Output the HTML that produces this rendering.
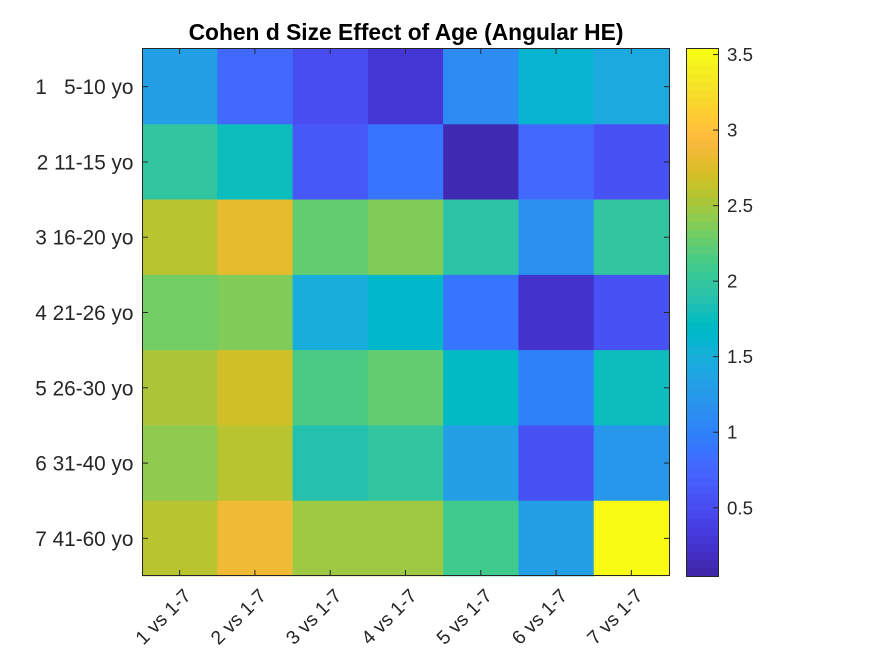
<!DOCTYPE html>
<html>
<head>
<meta charset="utf-8">
<style>
html,body{margin:0;padding:0;background:#fff;}
svg{display:block;}
text{font-family:"Liberation Sans",Arial,sans-serif;fill:#262626;white-space:pre;}
</style>
</head>
<body>
<svg id="chart" width="875" height="656" viewBox="0 0 875 656" xmlns="http://www.w3.org/2000/svg" shape-rendering="auto">
<text x="406" y="40" text-anchor="middle" font-size="22.8" font-weight="bold" style="fill:#000">Cohen d Size Effect of Age (Angular HE)</text>
<g id="cells"></g>
<g id="xaxis"></g>
<g id="yaxis"></g>
<rect x="142.5" y="48.5" width="527" height="527" fill="none" stroke="#262626" stroke-width="1"/>
<g id="cbar"></g>
<rect x="686.5" y="48.5" width="32" height="528" fill="none" stroke="#262626" stroke-width="1"/>
<g id="cbarticks"></g>
</svg>
<script>
const rowLabels = ["1   5-10 yo","2 11-15 yo","3 16-20 yo","4 21-26 yo","5 26-30 yo","6 31-40 yo","7 41-60 yo"];
const colLabels = ["1 vs 1-7","2 vs 1-7","3 vs 1-7","4 vs 1-7","5 vs 1-7","6 vs 1-7","7 vs 1-7"];
const values = [
  [1.33,0.76,0.50,0.30,1.12,1.60,1.45],
  [2.00,1.75,0.60,0.90,0.15,0.80,0.55],
  [2.60,2.82,2.27,2.38,1.95,1.15,2.00],
  [2.30,2.38,1.50,1.65,0.90,0.25,0.55],
  [2.55,2.70,2.16,2.25,1.70,0.98,1.75],
  [2.43,2.60,1.90,2.00,1.33,0.55,1.20],
  [2.60,2.87,2.50,2.50,2.10,1.33,3.53]
];
const colorTicks = [0.5,1,1.5,2,2.5,3,3.5];
const colorTickLabels = ["0.5","1","1.5","2","2.5","3","3.5"];
const climMin = 0.045;
const climMax = 3.54;
const parula = [[.2422,.1504,.6603],[.2504,.165,.7076],[.2578,.1818,.7511],[.2647,.1978,.7952],[.2706,.2147,.8364],[.2751,.2342,.871],[.2783,.2559,.8991],[.2803,.2782,.9221],[.2813,.3006,.9414],[.281,.3228,.9579],[.2795,.3447,.9717],[.276,.3667,.9829],[.2699,.3892,.9906],[.2602,.4123,.9952],[.244,.4358,.9988],[.2206,.4603,.9973],[.1963,.4847,.9892],[.1834,.5074,.9798],[.1786,.5289,.9682],[.1764,.5499,.952],[.1687,.5703,.9359],[.154,.5902,.9218],[.146,.6091,.9079],[.138,.6276,.8973],[.1248,.6459,.8883],[.1113,.6635,.8763],[.0952,.6798,.8598],[.0689,.6948,.8394],[.0297,.7082,.8163],[.0036,.7203,.7917],[.0067,.7312,.766],[.0433,.7411,.7394],[.0964,.75,.712],[.1408,.7584,.6842],[.1717,.767,.6554],[.1938,.7758,.6251],[.2161,.7843,.5923],[.247,.7918,.5567],[.2906,.7973,.5188],[.3406,.8008,.4789],[.3909,.8029,.4354],[.4456,.8024,.3909],[.5044,.7993,.348],[.5616,.7942,.3045],[.6174,.7876,.2612],[.672,.7793,.2227],[.7242,.7698,.191],[.7738,.7598,.1646],[.8203,.7498,.1535],[.8634,.7406,.1596],[.9035,.733,.1774],[.9393,.7288,.21],[.9728,.7298,.2394],[.9956,.7434,.2371],[.997,.7659,.2199],[.9952,.7893,.2028],[.9892,.8136,.1885],[.9786,.8386,.1766],[.9676,.8639,.1643],[.961,.889,.1537],[.9597,.9135,.1423],[.9628,.9373,.1265],[.9691,.9606,.1064],[.9769,.9839,.0805]];

const NS = "http://www.w3.org/2000/svg";
const plot = {left:142, top:49, width:527, height:527};
const bar = {left:686.5, top:48.5, width:32, height:528};

function xBand(i){ return plot.left + i * plot.width / colLabels.length; }
function yBand(i){ return plot.top + i * plot.height / rowLabels.length; }
function cbarY(v){ return bar.top + bar.height * (climMax - v) / (climMax - climMin); }
function colorOf(v){
  let k = Math.floor((v - climMin) / (climMax - climMin) * parula.length);
  k = Math.max(0, Math.min(parula.length - 1, k));
  return rgb(parula[k]);
}
function rgb(c){
  return "rgb(" + c.map(function(x){ return Math.round(x * 255); }).join(",") + ")";
}
function make(tag, attrs){
  const el = document.createElementNS(NS, tag);
  for (const k in attrs) el.setAttribute(k, attrs[k]);
  return el;
}
const tickColor = "#262626";
const frameTop = 48.5, frameBottom = 575.5, frameLeft = 142.5, frameRight = 669.5;
const cellsG = document.getElementById("cells");
const xG = document.getElementById("xaxis");
const yG = document.getElementById("yaxis");
const cbarG = document.getElementById("cbar");
const cbarTicksG = document.getElementById("cbarticks");

values.forEach(function(row, r){
  row.forEach(function(v, c){
    const cell = make("rect", {x:xBand(c), y:yBand(r), width:plot.width/colLabels.length+0.3, height:plot.height/rowLabels.length+0.3, fill:colorOf(v)});
    
    
    cellsG.appendChild(cell);
  });
});

colLabels.forEach(function(label, i){
  const x = xBand(i + 0.5);
  const t1 = make("line", {x1:x, x2:x, y1:frameTop, y2:frameTop+5.5, stroke:tickColor});
  
  
  xG.appendChild(t1);
  const t2 = make("line", {x1:x, x2:x, y1:frameBottom, y2:frameBottom-5.5, stroke:tickColor});
  
  
  xG.appendChild(t2);
  const tx = x + 12.5, ty = 597;
  const lab = make("text", {x:tx, y:ty, "text-anchor":"end", "font-size":"19.4", transform:"rotate(-45 "+tx+" "+ty+")"});
  
  
  lab.textContent = label;
  xG.appendChild(lab);
});

rowLabels.forEach(function(label, i){
  const y = yBand(i + 0.5);
  const t1 = make("line", {x1:frameLeft, x2:frameLeft+5.5, y1:y, y2:y, stroke:tickColor});
  
  
  yG.appendChild(t1);
  const t2 = make("line", {x1:frameRight, x2:frameRight-5.5, y1:y, y2:y, stroke:tickColor});
  
  
  yG.appendChild(t2);
  const lab = make("text", {x:133.5, y:y+7.5, "text-anchor":"end", "font-size":"20.8"});
  
  
  lab.textContent = label;
  yG.appendChild(lab);
});

parula.forEach(function(c, i){
  const h = bar.height / parula.length;
  const seg = make("rect", {x:bar.left, y:bar.top + bar.height - (i + 1) * h, width:bar.width, height:h + 0.3, fill:rgb(c)});
  
  
  cbarG.appendChild(seg);
});

colorTicks.forEach(function(v, i){
  const y = cbarY(v);
  const t = make("line", {x1:bar.left+bar.width, x2:bar.left+bar.width-5.5, y1:y, y2:y, stroke:tickColor});
  
  
  cbarTicksG.appendChild(t);
  const lab = make("text", {x:727, y:y+6.5, "font-size":"18.7"});
  
  
  lab.textContent = colorTickLabels[i];
  cbarTicksG.appendChild(lab);
});
</script>
</body>
</html>
